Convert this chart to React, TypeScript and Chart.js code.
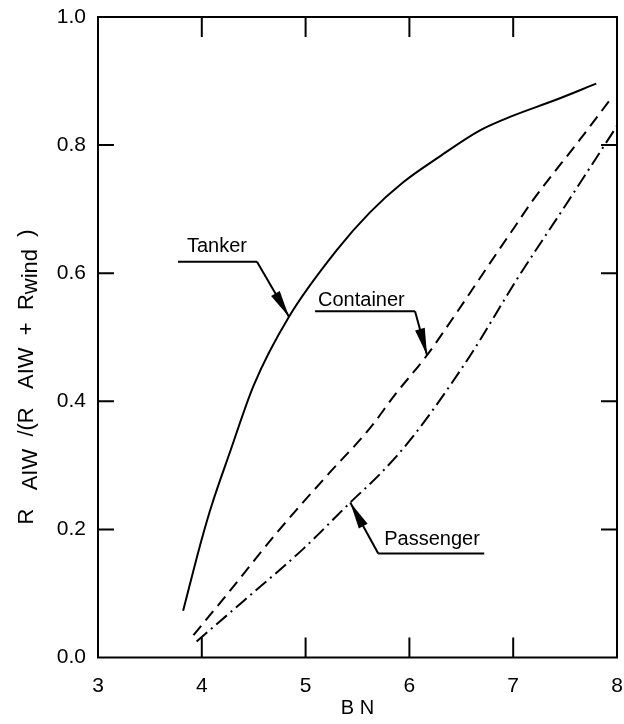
import React, { useEffect, useRef } from "react";
import { Chart, registerables } from "chart.js";

Chart.register(...registerables);

// ---- data ----
const tankerBN = [3.82, 4.0, 4.1, 4.27, 4.5, 4.84, 5.3, 5.62, 5.94, 6.29, 6.68, 7.0, 7.4, 7.8];
const tankerRatio = [0.073, 0.185, 0.24, 0.32, 0.425, 0.532, 0.636, 0.695, 0.742, 0.782, 0.823, 0.846, 0.87, 0.896];

const containerBN = [3.92, 4.2, 4.75, 5.2, 5.62, 5.86, 6.17, 6.42, 6.84, 7.03, 7.19, 7.64, 7.93];
const containerRatio = [0.035, 0.09, 0.2, 0.283, 0.358, 0.41, 0.472, 0.53, 0.631, 0.676, 0.714, 0.808, 0.87];

const passengerBN = [3.95, 4.4, 4.98, 5.43, 5.72, 6.01, 6.58, 7.03, 7.5, 8.0];
const passengerRatio = [0.025, 0.088, 0.17, 0.242, 0.287, 0.34, 0.47, 0.589, 0.705, 0.83];

const seriesNames = ["Tanker", "Container", "Passenger"];
// index of the point each label's arrow points at
const arrowPointIndex = [5, 6, 3];

const xTickValues = [3, 4, 5, 6, 7, 8];
const yTickValues = [0, 0.2, 0.4, 0.6, 0.8, 1.0];

const xTitle = "B N";
// y title pieces: [text, subscript?]
const yTitleParts: [string, boolean][] = [
  ["R", false],
  ["   ", false],
  ["AIW", true],
  ["  /(R   AIW  +  R", false],
  ["wind", true],
  ["  )", false],
];

const FONT = "'Liberation Sans', Arial, Helvetica, sans-serif";

function toPts(xs: number[], ys: number[]) {
  return xs.map((x, i) => ({ x, y: ys[i] }));
}

function arrow(ctx: CanvasRenderingContext2D, fx: number, fy: number, tx: number, ty: number, len: number, hw: number) {
  ctx.beginPath();
  ctx.moveTo(fx, fy);
  ctx.lineTo(tx, ty);
  ctx.stroke();
  const a = Math.atan2(ty - fy, tx - fx);
  const bx = tx - len * Math.cos(a);
  const by = ty - len * Math.sin(a);
  const nx = -Math.sin(a);
  const ny = Math.cos(a);
  ctx.beginPath();
  ctx.moveTo(tx, ty);
  ctx.lineTo(bx + hw * nx, by + hw * ny);
  ctx.lineTo(bx - hw * nx, by - hw * ny);
  ctx.closePath();
  ctx.fill();
}

const framePlugin = {
  id: "frameAndInnerTicks",
  afterDatasetsDraw(chart: any) {
    const { ctx, chartArea } = chart;
    const { left, right, top, bottom } = chartArea;
    const xs = chart.scales.x;
    const ys = chart.scales.y;
    ctx.save();
    ctx.strokeStyle = "#000";
    ctx.lineWidth = 2;
    ctx.setLineDash([]);
    ctx.strokeRect(left, top, right - left, bottom - top);
    ctx.beginPath();
    xTickValues.slice(1, -1).forEach((v) => {
      const px = xs.getPixelForValue(v);
      ctx.moveTo(px, bottom);
      ctx.lineTo(px, bottom - 20);
      ctx.moveTo(px, top);
      ctx.lineTo(px, top + 20);
    });
    yTickValues.slice(1, -1).forEach((v) => {
      const py = ys.getPixelForValue(v);
      ctx.moveTo(left, py);
      ctx.lineTo(left + 16, py);
      ctx.moveTo(right, py);
      ctx.lineTo(right - 16, py);
    });
    ctx.stroke();
    ctx.restore();
  },
};

const annotationPlugin = {
  id: "seriesLabels",
  afterDatasetsDraw(chart: any) {
    const { ctx } = chart;
    const xs = chart.scales.x;
    const ys = chart.scales.y;
    const sets = [
      { bn: tankerBN, r: tankerRatio },
      { bn: containerBN, r: containerRatio },
      { bn: passengerBN, r: passengerRatio },
    ];
    // label geometry relative to the arrow tip
    const geo = [
      { ex: -32, ey: -55, lx: -111, tx: -102, ty: -65 },
      { ex: -12, ey: -44, lx: -112, tx: -109, ty: -49 },
      { ex: 28, ey: 51, lx: 134, tx: 34, ty: 43 },
    ];
    ctx.save();
    ctx.strokeStyle = "#000";
    ctx.fillStyle = "#000";
    ctx.lineWidth = 2;
    ctx.setLineDash([]);
    ctx.font = `20px ${FONT}`;
    ctx.textBaseline = "alphabetic";
    ctx.textAlign = "left";
    sets.forEach((s, i) => {
      const k = arrowPointIndex[i];
      const tipX = xs.getPixelForValue(s.bn[k]);
      const tipY = ys.getPixelForValue(s.r[k]);
      const g = geo[i];
      const ex = tipX + g.ex;
      const ey = tipY + g.ey;
      ctx.beginPath();
      ctx.moveTo(ex, ey);
      ctx.lineTo(tipX + g.lx, ey);
      ctx.stroke();
      arrow(ctx, ex, ey, tipX, tipY, 27, 5);
      ctx.fillText(seriesNames[i], tipX + g.tx, tipY + g.ty);
    });
    ctx.restore();
  },
  afterDraw(chart: any) {
    const { ctx } = chart;
    ctx.save();
    ctx.font = `22px ${FONT}`;
    ctx.fillStyle = "#000";
    ctx.textBaseline = "middle";
    ctx.textAlign = "left";
    const total = yTitleParts.reduce((w, p) => w + ctx.measureText(p[0]).width, 0);
    ctx.translate(27, 377);
    ctx.rotate(-Math.PI / 2);
    let x = -total / 2;
    yTitleParts.forEach(([t, sub]) => {
      ctx.fillText(t, x, sub ? 4 : 0);
      x += ctx.measureText(t).width;
    });
    ctx.restore();
  },
};

export default function App() {
  const ref = useRef<HTMLCanvasElement | null>(null);

  useEffect(() => {
    if (!ref.current) return;
    const chart = new Chart(ref.current, {
      type: "line",
      data: {
        datasets: [
          {
            label: seriesNames[0],
            data: toPts(tankerBN, tankerRatio),
            borderColor: "#000",
            borderWidth: 2,
            pointRadius: 0,
            cubicInterpolationMode: "monotone",
            fill: false,
          },
          {
            label: seriesNames[1],
            data: toPts(containerBN, containerRatio),
            borderColor: "#000",
            borderWidth: 2,
            borderDash: [12, 7],
            pointRadius: 0,
            cubicInterpolationMode: "monotone",
            fill: false,
          },
          {
            label: seriesNames[2],
            data: toPts(passengerBN, passengerRatio),
            borderColor: "#000",
            borderWidth: 2,
            borderDash: [14, 5, 2, 5],
            pointRadius: 0,
            cubicInterpolationMode: "monotone",
            fill: false,
          },
        ],
      },
      options: {
        animation: false,
        responsive: true,
        maintainAspectRatio: false,
        layout: { padding: { top: 17, right: 7, left: 0, bottom: 0 } },
        plugins: {
          legend: { display: false },
          tooltip: { enabled: false },
        },
        scales: {
          x: {
            type: "linear",
            min: 3,
            max: 8,
            grid: { display: false, drawTicks: false },
            border: { display: false },
            afterBuildTicks: (s: any) => {
              s.ticks = xTickValues.map((v) => ({ value: v }));
            },
            ticks: {
              color: "#000",
              padding: 18,
              maxRotation: 0,
              font: { family: FONT, size: 21, lineHeight: 1 },
              callback: (v: any) => String(v),
            },
            title: {
              display: true,
              text: xTitle,
              color: "#000",
              font: { family: FONT, size: 20, lineHeight: 1 },
              padding: { top: 0, bottom: 6 },
            },
            afterFit: (s: any) => {
              s.height = 66.5;
              s.paddingLeft = 0;
              s.paddingRight = 0;
            },
          },
          y: {
            type: "linear",
            min: 0,
            max: 1,
            grid: { display: false, drawTicks: false },
            border: { display: false },
            afterBuildTicks: (s: any) => {
              s.ticks = yTickValues.map((v) => ({ value: v }));
            },
            ticks: {
              color: "#000",
              padding: 12,
              font: { family: FONT, size: 21, lineHeight: 1 },
              callback: (v: any) => Number(v).toFixed(1),
            },
            afterFit: (s: any) => {
              s.width = 98;
              s.paddingTop = 0;
              s.paddingBottom = 0;
            },
          },
        },
      },
      plugins: [framePlugin, annotationPlugin],
    } as any);
    return () => chart.destroy();
  }, []);

  return (
    <div style={{ position: "fixed", left: 0, top: 0, width: 624, height: 724, background: "#fff" }}>
      <canvas ref={ref} />
    </div>
  );
}
